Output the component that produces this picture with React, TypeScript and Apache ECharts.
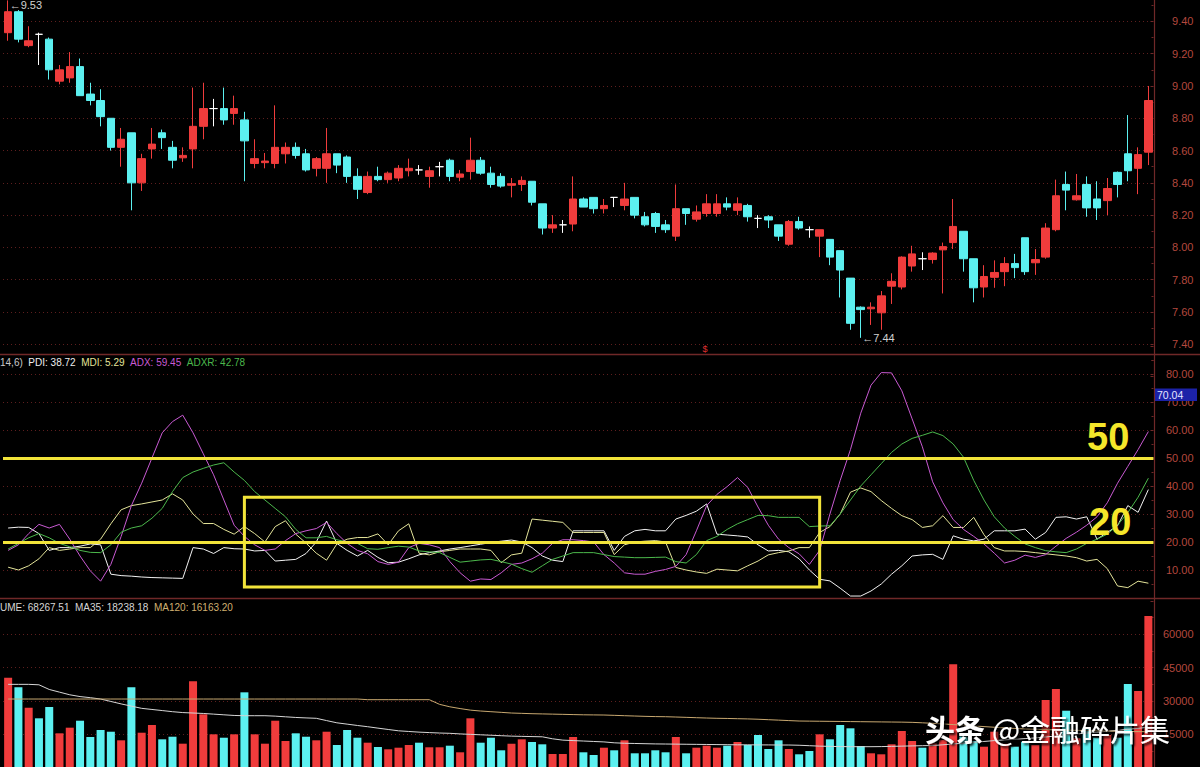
import React, { useEffect, useRef } from "react";
import * as echarts from "echarts";

// ---------- categories ----------
const days = Array.from({ length: 112 }, (_, i) => `D${i + 1}`);

// ---------- price (open / close / low / high) ----------
const openP = [
  9.33, 9.46, 9.25, 9.32, 9.29, 9.03, 9.05, 9.12, 8.95, 8.91,
  8.80, 8.62, 8.71, 8.40, 8.61, 8.71, 8.62, 8.555, 8.61, 8.75,
  8.86, 8.86, 8.83, 8.79, 8.52, 8.525, 8.52, 8.58, 8.62, 8.58,
  8.49, 8.49, 8.58, 8.56, 8.44, 8.34, 8.44, 8.42, 8.43, 8.475,
  8.48, 8.44, 8.50, 8.54, 8.435, 8.47, 8.54, 8.46, 8.44, 8.385,
  8.39, 8.41, 8.27, 8.12, 8.14, 8.145, 8.30, 8.31, 8.24, 8.31,
  8.26, 8.31, 8.19, 8.21, 8.14, 8.07, 8.24, 8.175, 8.21, 8.21,
  8.27, 8.23, 8.26, 8.18, 8.19, 8.14, 8.02, 8.16, 8.11, 8.07,
  8.05, 7.98, 7.81, 7.63, 7.62, 7.595, 7.76, 7.755, 7.885, 7.93,
  7.925, 7.985, 8.03, 8.10, 7.93, 7.755, 7.815, 7.85, 7.90, 8.06,
  7.905, 7.94, 8.11, 8.39, 8.295, 8.39, 8.30, 8.29, 8.465, 8.58,
  8.49, 8.59,
];
const closeP = [
  9.46, 9.29, 9.28, 9.32, 9.10, 9.10, 9.12, 8.94, 8.91, 8.81,
  8.62, 8.67, 8.40, 8.55, 8.64, 8.68, 8.54, 8.57, 8.75, 8.86,
  8.86, 8.79, 8.86, 8.66, 8.55, 8.535, 8.62, 8.62, 8.57, 8.48,
  8.55, 8.58, 8.51, 8.44, 8.36, 8.44, 8.42, 8.46, 8.49, 8.49,
  8.48, 8.475, 8.50, 8.44, 8.455, 8.54, 8.46, 8.39, 8.38, 8.395,
  8.415, 8.28, 8.12, 8.14, 8.14, 8.30, 8.25, 8.24, 8.26, 8.31,
  8.30, 8.20, 8.14, 8.13, 8.11, 8.24, 8.21, 8.22, 8.27, 8.27,
  8.25, 8.27, 8.19, 8.18, 8.17, 8.07, 8.16, 8.12, 8.11, 8.11,
  7.94, 7.86, 7.53, 7.615, 7.63, 7.70, 7.79, 7.94, 7.96, 7.93,
  7.965, 8.005, 8.13, 7.93, 7.75, 7.82, 7.845, 7.90, 7.875, 7.85,
  7.925, 8.12, 8.32, 8.355, 8.32, 8.245, 8.245, 8.365, 8.39, 8.475,
  8.575, 8.91,
];
const lowP = [
  9.28, 9.27, 9.24, 9.13, 9.04, 9.01, 9.02, 8.94, 8.88, 8.75,
  8.60, 8.50, 8.23, 8.35, 8.55, 8.61, 8.49, 8.53, 8.49, 8.67,
  8.75, 8.76, 8.76, 8.41, 8.49, 8.49, 8.49, 8.52, 8.55, 8.47,
  8.44, 8.40, 8.46, 8.40, 8.30, 8.33, 8.41, 8.40, 8.41, 8.44,
  8.45, 8.37, 8.44, 8.41, 8.41, 8.42, 8.45, 8.37, 8.37, 8.31,
  8.35, 8.26, 8.08, 8.09, 8.09, 8.10, 8.25, 8.21, 8.21, 8.25,
  8.23, 8.18, 8.13, 8.09, 8.09, 8.04, 8.14, 8.16, 8.19, 8.19,
  8.23, 8.20, 8.16, 8.12, 8.12, 8.04, 8.01, 8.11, 8.06, 7.94,
  7.89, 7.69, 7.49, 7.44, 7.52, 7.49, 7.65, 7.74, 7.85, 7.86,
  7.90, 7.715, 7.99, 7.85, 7.66, 7.69, 7.75, 7.76, 7.81, 7.83,
  7.83, 7.93, 8.10, 8.23, 8.29, 8.19, 8.17, 8.20, 8.31, 8.41,
  8.33, 8.51,
];
const highP = [
  9.53, 9.47, 9.37, 9.33, 9.30, 9.13, 9.21, 9.17, 9.02, 8.98,
  8.80, 8.74, 8.71, 8.58, 8.74, 8.73, 8.66, 8.62, 8.99, 9.02,
  8.92, 8.99, 8.94, 8.84, 8.67, 8.585, 8.88, 8.65, 8.65, 8.61,
  8.56, 8.74, 8.58, 8.57, 8.49, 8.47, 8.50, 8.47, 8.51, 8.55,
  8.51, 8.50, 8.53, 8.55, 8.48, 8.68, 8.56, 8.50, 8.46, 8.43,
  8.44, 8.41, 8.27, 8.20, 8.17, 8.44, 8.31, 8.31, 8.30, 8.31,
  8.40, 8.31, 8.22, 8.22, 8.17, 8.39, 8.24, 8.26, 8.33, 8.33,
  8.31, 8.31, 8.27, 8.20, 8.20, 8.14, 8.17, 8.19, 8.13, 8.11,
  8.05, 7.98, 7.81, 7.635, 7.66, 7.73, 7.84, 7.945, 8.01, 7.97,
  7.97, 8.03, 8.30, 8.10, 7.93, 7.89, 7.92, 7.94, 7.96, 8.06,
  7.99, 8.15, 8.42, 8.47, 8.455, 8.44, 8.41, 8.43, 8.47, 8.82,
  8.62, 9.00,
];

// ---------- DMI(14,6) ----------
const pdi = [
  25, 25.3, 25.2, 23, 17, 18, 18, 18.5, 19.3, 19,
  8.5, 8, 7.8, 7.5, 7.3, 7.2, 7.1, 7, 18, 17.5,
  15.9, 18, 17.6, 17.5, 16.8, 17, 13.2, 13.5, 13.8, 15.9,
  20, 27.5, 19.5, 17, 15, 17, 14.5, 12.6, 12.8, 14,
  15.4, 16.2, 16.8, 17.5, 18, 18.6, 19.2, 19.8, 20.3, 20.7,
  20, 18, 15, 13.5, 13, 24, 24, 24, 24, 17,
  22, 24, 24.5, 24, 24, 28.2, 29.5, 31, 33.6, 22.8,
  22.5, 22.2, 21.8, 19, 16.8, 17, 16.5, 14, 10, 6.7,
  6.1, 3.5, 0.7, 0.7, 2.5, 5, 8.5, 11.5, 15, 15.4,
  15.6, 13.8, 22.2, 21, 20.4, 21, 24, 24, 24, 24.6,
  21, 23.4, 28.8, 29, 28.2, 29, 21, 23.4, 25.8, 33,
  30.6, 38.72,
];
const mdi = [
  11, 10, 11.5, 14, 18, 17, 17.5, 18, 18, 21,
  26.5, 31.5, 33, 33.6, 34.3, 35, 37.2, 35, 30, 26.6,
  26.6, 24.5, 22.8, 25.5, 23, 20, 25.5, 27.6, 22.8, 19.6,
  16, 13.5, 19.3, 21, 21.6, 21.6, 22.9, 19, 24, 26.5,
  16, 15.4, 16.5, 17, 17.5, 17.5, 17.5, 17, 12.6, 15.4,
  16, 28.2, 27.8, 27.4, 27, 23.4, 23.4, 23.4, 23.4, 15.5,
  19, 20, 20.3, 20.5, 20, 10.9, 10, 9.3, 8.8, 10.3,
  10, 9.7, 11.5, 13.2, 15.4, 16.2, 16.8, 18, 18, 23.4,
  25.5, 30, 37.8, 39.3, 38, 34.8, 32, 29.4, 28, 25.2,
  25.8, 29.4, 25.2, 25.2, 28.8, 22.6, 18, 16.8, 16.8, 16.6,
  16.2, 15.8, 15.4, 15, 14.4, 13.2, 13.8, 10.5, 4.3, 3.7,
  6, 5.29,
];
const adx = [
  17, 19, 23, 26.3, 25, 26.3, 21, 15, 9.7, 6,
  12, 22, 33, 41, 50, 59, 63, 65.3, 59, 51.5,
  44, 35, 26, 22, 19, 17, 17.5, 20.5, 23, 24,
  24.8, 27, 23, 19.5, 17, 15.8, 13, 12, 12.8, 18,
  19.5, 19, 18, 13, 9, 6, 6.8, 6.6, 9, 12,
  12.5, 14, 16, 19.5, 20.8, 20.8, 20.5, 20, 15.5, 12.5,
  9, 8.5, 8.5, 9.5, 10.2, 11.3, 15.5, 24, 33, 37,
  39.8, 43, 39.5, 32.5, 26, 21, 18, 15.8, 12, 17,
  30, 42, 53, 66, 76, 80.5, 80.4, 74, 64, 54,
  41.5, 34, 28, 24.5, 22, 19.3, 16, 12.5, 13.5, 15.3,
  14.5, 15.5, 18.5, 21.3, 23.5, 26, 29, 34, 41, 47,
  53, 59.45,
];
const adxr = [
  17.5, 19.5, 21.5, 23, 21.5, 19.5, 18.3, 17, 16.3, 16.2,
  19, 23.5, 25, 25.8, 28.5, 32, 38, 43, 45, 46.3,
  47.5, 48.3, 45, 42, 38, 35, 32, 29, 24.5, 21.5,
  21.5, 22, 20.8, 20, 19.5, 17.6, 17.4, 18, 18.5, 18.2,
  16.8, 16.5, 16.2, 14.5, 12.8, 13.2, 13.6, 13.8, 13, 12.1,
  10.5, 9.2, 11.5, 13.8, 15, 16.2, 16.2, 16.2, 15.5, 14.8,
  14.6, 14.4, 14.4, 14.5, 14.6, 13, 12.5, 15.5, 20.5, 22,
  24.5, 26.5, 28, 29.5, 29.4, 28.8, 28.8, 28.8, 25.5, 25.7,
  25.8, 30, 35, 40, 44, 48, 52, 55, 57, 58.1,
  59.3, 58, 55, 50.3, 42, 35, 29, 25, 22, 19.3,
  18, 16.9, 16.5, 16.2, 17.5, 19.5, 21, 22.8, 26, 30.5,
  36, 42.78,
];
const dmiLevels = [50, 20];

// ---------- volume ----------
const volume = [
  40480, 36160, 26990, 22220, 27300, 15470, 18000, 21140, 13810, 16960,
  16190, 12320, 36160, 15740, 19200, 12770, 13940, 10800, 38860, 24010,
  15020, 13490, 15020, 33910, 15020, 10800, 21140, 12010, 15470, 13940,
  12320, 16190, 10210, 16960, 13490, 11250, 9310, 8280, 9000, 10210,
  11250, 9180, 9180, 9900, 6930, 22220, 11250, 13490, 7830, 10800,
  12770, 11560, 10520, 6160, 6160, 13810, 6930, 5710, 9000, 7830,
  12320, 6480, 6480, 7830, 6930, 13810, 6480, 9000, 9900, 9000,
  9900, 11560, 10210, 14710, 8410, 12320, 8410, 6030, 7510, 15020,
  12770, 19200, 17720, 9760, 6480, 6030, 10520, 16510, 12010, 9000,
  11000, 12460, 46510, 14000, 12000, 9450, 16190, 10700, 9450, 11700,
  10200, 30450, 35400, 25640, 13200, 18000, 13500, 14700, 13500, 37650,
  34500, 68267.51,
];
// volume colour of the doji (open == close) days, 1-based day number -> rising?
const dojiVolumeUp: Record<number, boolean> = {
  4: false, 21: true, 41: false, 43: true, 55: true, 60: false, 74: false, 79: false, 90: false,
};
const ma35 = [
  37500, 37500, 37500, 37300, 35200, 34000, 32800, 32000, 31500, 30900,
  29800, 28700, 27700, 26700, 26200, 25700, 25200, 24800, 24600, 24400,
  24100, 23800, 23500, 23390, 23390, 23390, 23200, 22900, 22600, 22400,
  22220, 21200, 20200, 19600, 19000, 18440, 17800, 17200, 16600, 16300,
  16000, 15800, 15600, 15470, 15200, 15000, 14800, 14600, 14400, 14200,
  14100, 14000, 13900, 13000, 12400, 12200, 12000, 11800, 11600, 11200,
  11000, 10900, 10800, 10700, 10650, 10600, 10550, 10500, 10450, 10400,
  10350, 10300, 10300, 10250, 10250, 10200, 10200, 10100, 9900, 9700,
  9600, 9500, 9450, 9450, 9450, 9500, 9600, 9700, 9800, 9900,
  10000, 10300, 10700, 11000, 11400, 11800, 12200, 12500, 12800, 13100,
  13400, 13800, 14300, 14800, 15200, 15600, 16000, 16400, 16800, 17300,
  17700, 18238.18,
];
const ma120 = [
  30900, 30900, 30900, 30900, 30900, 30900, 30900, 30900, 30900, 30900,
  30900, 30900, 30900, 30900, 30900, 30900, 30900, 30900, 30900, 30900,
  30900, 30900, 30900, 30900, 30900, 30900, 30900, 30900, 30900, 30900,
  30900, 30900, 30900, 30900, 30900, 30600, 30600, 30600, 30600, 30600,
  30600, 30600, 28500, 27400, 26600, 25900, 25500, 25200, 24900, 24600,
  24450, 24300, 24200, 24100, 24000, 23900, 23800, 23750, 23700, 23550,
  23400, 23250, 23100, 23000, 22940, 22800, 22650, 22500, 22350, 22220,
  22150, 22050, 21950, 21800, 21600, 21400, 21200, 21000, 20950, 20900,
  20850, 20800, 20750, 20700, 20650, 20600, 20550, 20500, 20400, 20200,
  19970, 19700, 19400, 19100, 18800, 18500, 18200, 17900, 17650, 17450,
  17300, 17150, 17000, 16900, 16800, 16700, 16600, 16500, 16400, 16300,
  16230, 16163.2,
];

// ---------- axis ticks ----------
const priceTicks = { min: 7.2, max: 9.6, step: 0.2 };
const dmiTicks = { min: 0, max: 90, step: 10 };
const volTicks = { min: 0, max: 75000, step: 15000 };

const RED = "#f03c3c";
const CYAN = "#5cf0f0";
const GRIDC = "#5e1e1e";
const BORDER = "#702828";
const LABELC = "#b4483e";
const NUMFONT = "Liberation Sans";

export default function App() {
  const ref = useRef<HTMLDivElement>(null);

  useEffect(() => {
    document.body.style.margin = "0";
    document.body.style.background = "#000";
    const chart = echarts.init(ref.current as HTMLDivElement, null, { renderer: "svg" });

    const isUp = (i: number) =>
      closeP[i] > openP[i] ? true : closeP[i] < openP[i] ? false : !!dojiVolumeUp[i + 1];

    const yAxisBase = (gridIndex: number, t: { min: number; max: number; step: number }, fmt: (v: number) => string) => ({
      type: "value",
      gridIndex,
      position: "right",
      min: t.min,
      max: t.max,
      interval: t.step,
      axisLine: { show: false },
      axisTick: { show: true, inside: true, length: 3, lineStyle: { color: BORDER } },
      minorTick: { show: true, splitNumber: 2, length: 2, lineStyle: { color: BORDER } },
      axisLabel: {
        show: true,
        color: LABELC,
        fontSize: 11,
        fontFamily: NUMFONT,
        align: "right",
        margin: 40,
        showMinLabel: false,
        showMaxLabel: false,
        formatter: fmt,
      },
      splitLine: {
        show: true,
        showMinLine: false,
        showMaxLine: false,
        lineStyle: { color: GRIDC, type: [1, 3], width: 1 },
      },
    });

    const lineSeries = (name: string, data: number[], color: string, xi: number, extra: any = {}) => ({
      name,
      type: "line",
      xAxisIndex: xi,
      yAxisIndex: xi,
      data,
      showSymbol: false,
      symbol: "none",
      silent: true,
      lineStyle: { color, width: 1 },
      ...extra,
    });

    const gridBase = { left: 3, right: 46.5, containLabel: false, outerBoundsMode: "none" };

    const option: any = {
      backgroundColor: "#000",
      animation: false,
      grid: [
        { ...gridBase, top: -10.9, height: 387.5 },
        { ...gridBase, top: 346, height: 252 },
        { ...gridBase, top: 601, height: 166.7 },
      ],
      xAxis: [0, 1, 2].map((g) => ({
        type: "category",
        gridIndex: g,
        data: days,
        boundaryGap: true,
        show: false,
      })),
      yAxis: [
        yAxisBase(0, priceTicks, (v: number) => v.toFixed(2)),
        yAxisBase(1, dmiTicks, (v: number) => v.toFixed(2)),
        yAxisBase(2, volTicks, (v: number) => String(Math.round(v))),
      ],
      series: [
        {
          type: "candlestick",
          xAxisIndex: 0,
          yAxisIndex: 0,
          barWidth: 8,
          data: days.map((_, i) => [openP[i], closeP[i], lowP[i], highP[i]]),
          itemStyle: {
            color: RED,
            color0: CYAN,
            borderColor: RED,
            borderColor0: CYAN,
            borderColorDoji: "#ffffff",
            borderWidth: 1,
          },
          markPoint: {
            symbol: "rect",
            symbolSize: 1,
            itemStyle: { color: "rgba(0,0,0,0)" },
            silent: true,
            label: {
              show: true,
              position: "right",
              distance: 1,
              color: "#d2d2d2",
              fontSize: 11,
              fontFamily: NUMFONT,
              formatter: (p: any) => "←" + Number(p.value).toFixed(2),
            },
            data: [
              { coord: [days[0], highP[0]], value: highP[0], label: { offset: [0, 5] } },
              { coord: [days[83], lowP[83]], value: lowP[83] },
            ],
          },
        },
        lineSeries("PDI", pdi, "#f2f2f2", 1),
        lineSeries("MDI", mdi, "#e4e49a", 1, {
          markLine: {
            silent: true,
            symbol: ["none", "none"],
            label: { show: false },
            lineStyle: { color: "#f2e43a", width: 3, type: "solid" },
            z: 6,
            data: dmiLevels.map((v) => ({ yAxis: v })),
          },
          markArea: {
            silent: true,
            z: 6,
            itemStyle: { color: "rgba(0,0,0,0)", borderColor: "#f2e43a", borderWidth: 3 },
            data: [[{ xAxis: days[23], yAxis: 36 }, { xAxis: days[79], yAxis: 3.9 }]],
          },
        }),
        lineSeries("ADX", adx, "#c85ad2", 1),
        lineSeries("ADXR", adxr, "#4cb84c", 1),
        {
          type: "bar",
          xAxisIndex: 2,
          yAxisIndex: 2,
          barWidth: 8,
          silent: true,
          data: volume.map((v, i) => ({ value: v, itemStyle: { color: isUp(i) ? RED : CYAN } })),
        },
        lineSeries("MA35", ma35, "#d6d6d6", 2, { z: 3 }),
        lineSeries("MA120", ma120, "#c8a870", 2, { z: 3 }),
      ],
      graphic: [
        { type: "line", silent: true, z: 50, shape: { x1: 0, y1: 354.5, x2: 1200, y2: 354.5 }, style: { stroke: BORDER, lineWidth: 1.5 } },
        { type: "line", silent: true, z: 50, shape: { x1: 0, y1: 598.5, x2: 1200, y2: 598.5 }, style: { stroke: BORDER, lineWidth: 1.5 } },
        { type: "line", silent: true, z: 50, shape: { x1: 1154.5, y1: 0, x2: 1154.5, y2: 767 }, style: { stroke: BORDER, lineWidth: 1.2 } },
        {
          type: "text", silent: true, z: 60, x: 0, y: 362,
          style: {
            text: "{g|14,6)}  {p|PDI: 38.72}  {m|MDI: 5.29}  {a|ADX: 59.45}  {r|ADXR: 42.78}",
            verticalAlign: "middle",
            fontSize: 10,
            fontFamily: NUMFONT,
            rich: {
              g: { fill: "#c8c8c8", fontSize: 10, fontFamily: NUMFONT },
              p: { fill: "#eeeeee", fontSize: 10, fontFamily: NUMFONT },
              m: { fill: "#e4e49a", fontSize: 10, fontFamily: NUMFONT },
              a: { fill: "#c85ad2", fontSize: 10, fontFamily: NUMFONT },
              r: { fill: "#4cb84c", fontSize: 10, fontFamily: NUMFONT },
            },
          },
        },
        {
          type: "text", silent: true, z: 60, x: 0, y: 607,
          style: {
            text: "{w|UME: 68267.51}  {w|MA35: 18238.18}  {t|MA120: 16163.20}",
            verticalAlign: "middle",
            fontSize: 10,
            fontFamily: NUMFONT,
            rich: {
              w: { fill: "#d6d6d6", fontSize: 10, fontFamily: NUMFONT },
              t: { fill: "#d0b070", fontSize: 10, fontFamily: NUMFONT },
            },
          },
        },
        {
          type: "text", silent: true, z: 60, x: 705, y: 349,
          style: { text: "$", fill: "#e03030", fontSize: 9, fontFamily: NUMFONT, align: "center", verticalAlign: "middle" },
        },
        {
          type: "text", silent: true, z: 60, x: 1087, y: 437,
          style: { text: "50", fill: "#f5e62a", fontSize: 38, fontWeight: "bold", fontFamily: NUMFONT, verticalAlign: "middle" },
        },
        {
          type: "text", silent: true, z: 60, x: 1089, y: 522,
          style: { text: "20", fill: "#f5e62a", fontSize: 38, fontWeight: "bold", fontFamily: NUMFONT, verticalAlign: "middle" },
        },
        {
          type: "rect", silent: true, z: 70,
          shape: { x: 1155, y: 388.5, width: 42, height: 12.5 },
          style: { fill: "#1c22a8" },
        },
        {
          type: "text", silent: true, z: 71, x: 1157, y: 395,
          style: { text: "70.04", fill: "#e6e6ff", fontSize: 10.5, fontFamily: NUMFONT, verticalAlign: "middle" },
        },
        {
          type: "text", silent: true, z: 90, x: 925, y: 728,
          style: {
            text: "{b|头条} {r|@金融碎片集}",
            verticalAlign: "middle",
            fontSize: 30,
            fontFamily: "Noto Sans CJK SC",
            textShadowColor: "rgba(0,0,0,0.85)",
            textShadowBlur: 2,
            textShadowOffsetX: 2,
            textShadowOffsetY: 2,
            rich: {
              b: { fill: "#ffffff", fontSize: 30, fontWeight: "bold", fontFamily: "Noto Sans CJK SC" },
              r: { fill: "#ffffff", fontSize: 30, fontFamily: "Noto Sans CJK SC" },
            },
          },
        },
      ],
    };

    chart.setOption(option);
    return () => chart.dispose();
  }, []);

  return (
    <div
      ref={ref}
      style={{ position: "fixed", left: 0, top: 0, width: 1200, height: 767, background: "#000" }}
    />
  );
}
